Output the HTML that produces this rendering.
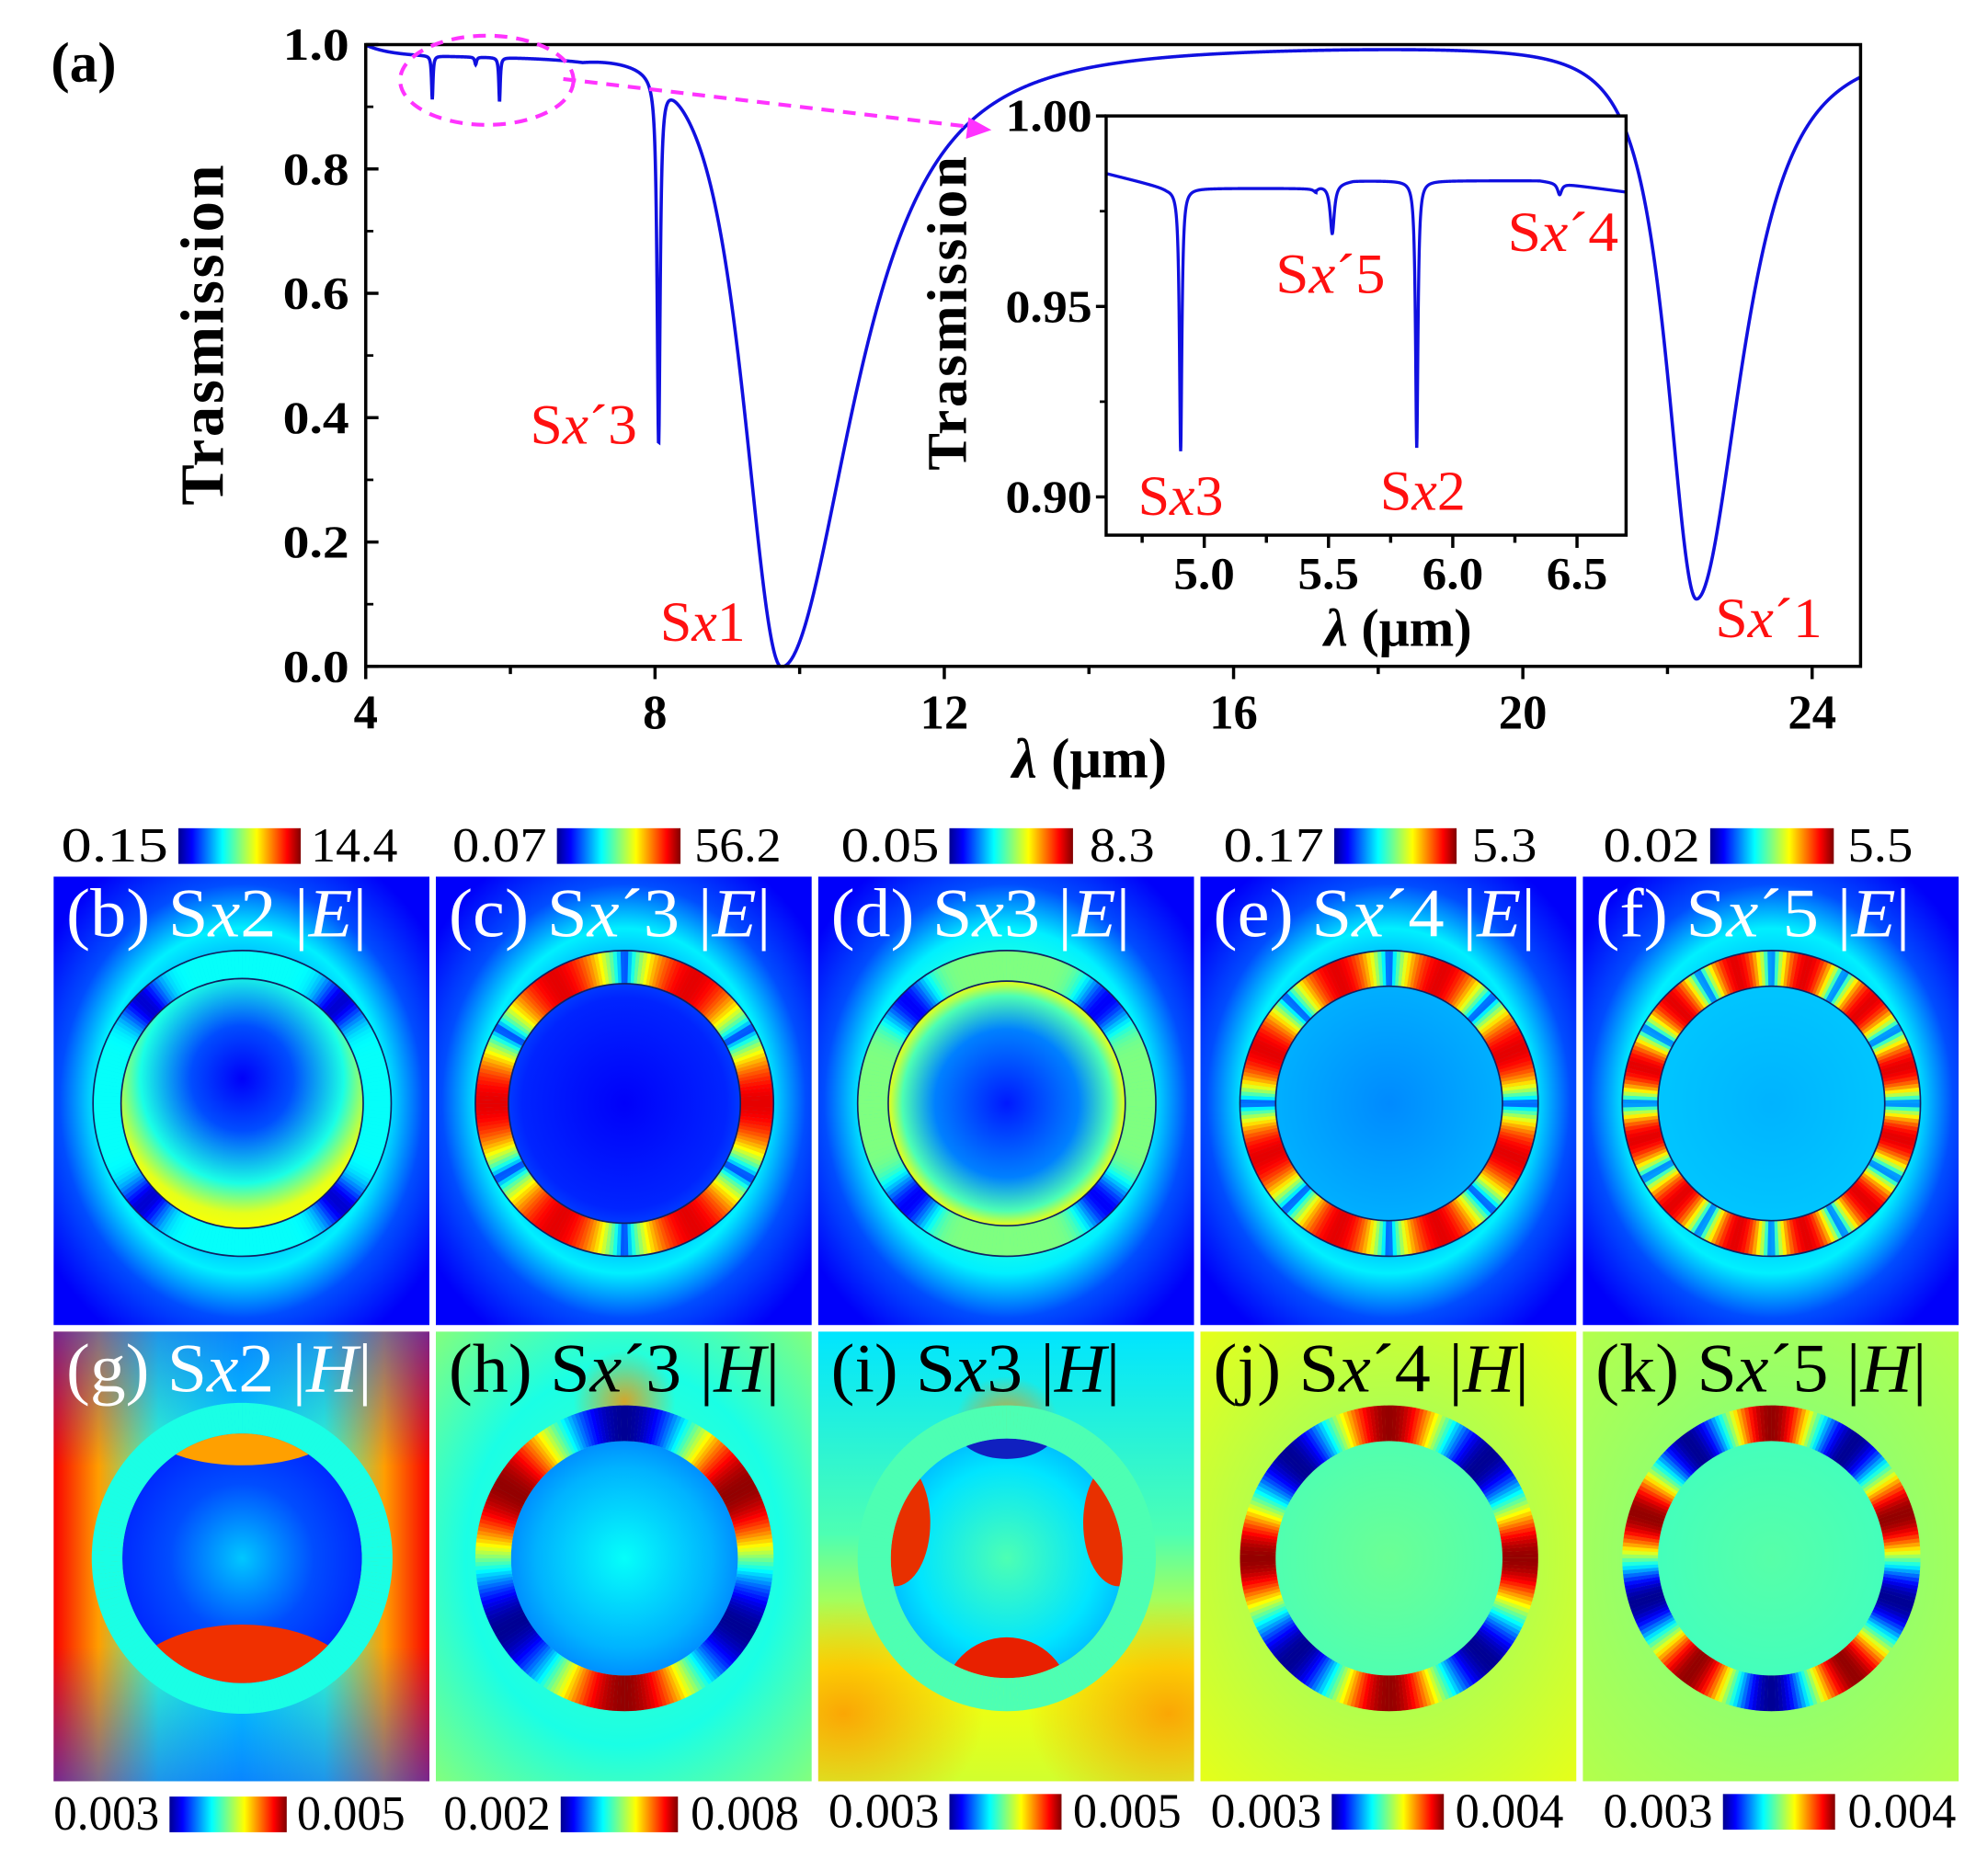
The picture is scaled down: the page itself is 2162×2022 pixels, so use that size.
<!DOCTYPE html>
<html><head><meta charset="utf-8"><style>
html,body{margin:0;padding:0;background:#fff}
svg{display:block}
text{font-family:"Liberation Serif",serif}
</style></head><body>
<svg id="s" width="2162" height="2022" viewBox="0 0 1560 1459" preserveAspectRatio="none" xmlns="http://www.w3.org/2000/svg">
<defs>
<linearGradient id="jet" x1="0" x2="1" y1="0" y2="0">
<stop offset="0" stop-color="#00008f"/><stop offset="0.11" stop-color="#0000ff"/><stop offset="0.36" stop-color="#00ffff"/><stop offset="0.5" stop-color="#80ff80"/><stop offset="0.64" stop-color="#ffff00"/><stop offset="0.89" stop-color="#ff0000"/><stop offset="1" stop-color="#800000"/>
</linearGradient>
<linearGradient id="gfade" x1="0" y1="0" x2="0" y2="1">
<stop offset="0" stop-color="#1040ff" stop-opacity="0.55"/><stop offset="0.3" stop-color="#1040ff" stop-opacity="0"/><stop offset="0.7" stop-color="#1040ff" stop-opacity="0"/><stop offset="1" stop-color="#1040ff" stop-opacity="0.55"/>
</linearGradient>
<radialGradient id="orf"><stop offset="0" stop-color="#ff9000" stop-opacity="0.8"/><stop offset="1" stop-color="#ff9000" stop-opacity="0"/></radialGradient>
</defs>
<g id="plot"></g>
<g id="fields"></g>
</svg>
<script>
var NS="http://www.w3.org/2000/svg";
function el(p,t,a,txt){var e=document.createElementNS(NS,t);for(var k in a)e.setAttribute(k,a[k]);if(txt!==undefined)e.textContent=txt;p.appendChild(e);return e;}
var P=document.getElementById('plot'),F=document.getElementById('fields');
function L(x,c,g){return g*g/((x-c)*(x-c)+g*g);}
function Tmain(l){
 var t=1;
 if(l<9.75) t-=Math.pow(L(l,9.75,0.93),2); else t-=Math.pow(L(l,9.75,1.5),1.5);
 if(l<22.4) t-=0.89*Math.pow(L(l,22.4,0.62),1.5); else t-=0.89*Math.pow(L(l,22.4,0.95),1.5);
 t-=0.585*L(l,8.05,0.025);
 t-=0.07*L(l,4.92,0.012);t-=0.012*L(l,5.52,0.015);t-=0.07*L(l,5.85,0.012);
 var b=0.018*(1-Math.exp(-(l-4)/0.35)); if(l>7) b*=Math.exp(-(l-7)/0.8);
 t-=b;
 return Math.max(t,0);
}
function mx(l){return 287+(l-4)*56.75;} function my(t){return 523-t*488;}
var d="";for(var l=4;l<=24.67;l+=0.004){d+=(d?"L":"M")+mx(l).toFixed(2)+","+my(Tmain(l)).toFixed(2);}
el(P,'path',{d:d,fill:'none',stroke:'#1010e0','stroke-width':2.6});
el(P,'rect',{x:287,y:35,width:1173,height:488,fill:'none',stroke:'#000','stroke-width':2.5});
[0,0.2,0.4,0.6,0.8,1.0].forEach(function(v){el(P,'line',{x1:287,x2:297,y1:my(v),y2:my(v),stroke:'#000','stroke-width':2.5});el(P,'text',{x:274,y:my(v)+12,'text-anchor':'end','font-size':36,'font-weight':'bold',textLength:52,lengthAdjust:'spacingAndGlyphs'},v.toFixed(1));});
[0.1,0.3,0.5,0.7,0.9].forEach(function(v){el(P,'line',{x1:287,x2:293,y1:my(v),y2:my(v),stroke:'#000','stroke-width':2});});
for(var l=4;l<=24;l+=2){var maj=(l%4==0);el(P,'line',{x1:mx(l),x2:mx(l),y1:523,y2:523+(maj?10:6),stroke:'#000','stroke-width':2.5});if(maj)el(P,'text',{x:mx(l),y:572,'text-anchor':'middle','font-size':38,'font-weight':'bold'},String(l));}
el(P,'text',{x:855,y:610,'text-anchor':'middle','font-size':44,'font-weight':'bold'}).innerHTML='<tspan font-style="italic">λ</tspan> (μm)';
el(P,'text',{x:0,y:0,transform:'translate(175,262) rotate(-90)','text-anchor':'middle','font-size':48,'font-weight':'bold','letter-spacing':'2'},'Trasmission');
el(P,'text',{x:40,y:64,'font-size':44,'font-weight':'bold'},'(a)');
el(P,'ellipse',{cx:382,cy:63,rx:68,ry:35,fill:'none',stroke:'#ff33ff','stroke-width':3,'stroke-dasharray':'10,7'});
el(P,'line',{x1:442,y1:62,x2:765,y2:100,stroke:'#ff33ff','stroke-width':3,'stroke-dasharray':'10,7'});
el(P,'polygon',{points:'778,102 760,92 758,109',fill:'#ff33ff'});
// inset
el(P,'rect',{x:868,y:91,width:408,height:329,fill:'#fff'});
function ix(l){return 945+(l-5)*195;} function iy(t){return 91+(1-t)*2990;}
function Tin(l){var b;
 if(l<4.85) b=0.985-0.004*(l-4.6)/0.25; else if(l<5.45) b=0.981; else if(l<5.6) b=0.9815+0.0015*(l-5.45)/0.15; else if(l<6.35) b=0.983; else b=0.983-0.003*(l-6.35)/0.35;
 return b-0.069*L(l,4.905,0.006)-0.013*L(l,5.515,0.01)-0.07*L(l,5.855,0.006)-0.003*L(l,6.43,0.01)-0.0008*L(l,5.45,0.01);}
d="";for(var l=4.605;l<=6.70;l+=0.0008){d+=(d?"L":"M")+ix(l).toFixed(2)+","+iy(Tin(l)).toFixed(2);}
el(P,'path',{d:d,fill:'none',stroke:'#1010e0','stroke-width':2.4});
el(P,'rect',{x:868,y:91,width:408,height:329,fill:'none',stroke:'#000','stroke-width':2.5});
[[1.0,'1.00'],[0.95,'0.95'],[0.9,'0.90']].forEach(function(a){el(P,'line',{x1:868,x2:860,y1:iy(a[0]),y2:iy(a[0]),stroke:'#000','stroke-width':2.5});el(P,'text',{x:857,y:iy(a[0])+12,'text-anchor':'end','font-size':36,'font-weight':'bold',textLength:68,lengthAdjust:'spacingAndGlyphs'},a[1]);});
[0.975,0.925].forEach(function(v){el(P,'line',{x1:868,x2:863,y1:iy(v),y2:iy(v),stroke:'#000','stroke-width':2});});
for(var l=4.75;l<=6.6;l+=0.25){var maj=Math.abs(l*2-Math.round(l*2))<0.01;el(P,'line',{x1:ix(l),x2:ix(l),y1:420,y2:420+(maj?10:6),stroke:'#000','stroke-width':2.5});if(maj)el(P,'text',{x:ix(l),y:462,'text-anchor':'middle','font-size':36,'font-weight':'bold',textLength:48,lengthAdjust:'spacingAndGlyphs'},l.toFixed(1));}
el(P,'text',{x:1097,y:507,'text-anchor':'middle','font-size':42,'font-weight':'bold'}).innerHTML='<tspan font-style="italic">λ</tspan> (μm)';
el(P,'text',{x:0,y:0,transform:'translate(758,245) rotate(-90)','text-anchor':'middle','font-size':44,'font-weight':'bold','letter-spacing':'2'},'Trasmission');
function red(x,y,pre,it,post,w){el(P,'text',{x:x,y:y,'font-size':44,fill:'#ff1010',textLength:w,lengthAdjust:'spacingAndGlyphs'}).innerHTML=pre+'<tspan font-style="italic">'+it+'</tspan>'+post;}
red(416,348,'S','x','´3',84);red(518,503,'S','x','1',67);red(1346,500,'S','x','´1',84);
red(893,404,'S','x','3',67);red(1083,400,'S','x','2',67);red(1001,230,'S','x','´5',86);red(1183,197,'S','x','´4',87);

// field maps
function jet(v){v=Math.max(0,Math.min(1,v));var r=Math.min(4*v-1.5,-4*v+4.5),g=Math.min(4*v-0.5,-4*v+3.5),b=Math.min(4*v+0.5,-4*v+2.5);
 function c(x){return Math.round(255*Math.max(0,Math.min(1,x)));}return 'rgb('+c(r)+','+c(g)+','+c(b)+')';}
var defs=document.querySelector('defs');
var gid=0;
function radial(stops,cx,cy,r){var id='g'+(gid++);var g=el(defs,'radialGradient',{id:id,cx:cx,cy:cy,r:r});stops.forEach(function(s){el(g,'stop',{offset:s[0],'stop-color':jet(s[1])});});return 'url(#'+id+')';}
function linear(stops,vert){var id='g'+(gid++);var g=el(defs,'linearGradient',{id:id,x1:0,y1:0,x2:vert?0:1,y2:vert?1:0});stops.forEach(function(s){el(g,'stop',{offset:s[0],'stop-color':jet(s[1])});});return 'url(#'+id+')';}
var cols=[42,342,642,942,1242];
function panel(ci,row,spec){
 var x0=cols[ci],y0=row?1045:688,w=295,h=row?353:352;
 var g=el(F,'g',{transform:'translate('+x0+','+y0+')'});
 var cp=el(defs,'clipPath',{id:'cp'+ci+row});el(cp,'rect',{x:0,y:0,width:w,height:h});
 g.setAttribute('clip-path','url(#cp'+ci+row+')');
 el(g,'rect',{x:0,y:0,width:w,height:h,fill:spec.bg});
 (spec.extra||[]).forEach(function(e){el(g,e[0],e[1]);});
 var cx=148,cy=178,rx=spec.rx||117,ry=spec.ry||120,th=spec.th;
 el(g,'ellipse',{cx:cx,cy:cy,rx:rx-th,ry:ry-th,fill:spec.inner});
 var ic=el(defs,'clipPath',{id:'ic'+ci+row});el(ic,'ellipse',{cx:cx,cy:cy,rx:rx-th,ry:ry-th});
 var ig=el(g,'g',{'clip-path':'url(#ic'+ci+row+')'});
 (spec.innerExtra||[]).forEach(function(e){el(ig,e[0],e[1]);});
 var N=240;for(var i=0;i<N;i++){var a0=2*Math.PI*i/N,a1=2*Math.PI*(i+1.05)/N,am=(a0+a1)/2;
  var pts=[[Math.cos(a0)*rx,-Math.sin(a0)*ry],[Math.cos(a1)*rx,-Math.sin(a1)*ry],[Math.cos(a1)*(rx-th),-Math.sin(a1)*(ry-th)],[Math.cos(a0)*(rx-th),-Math.sin(a0)*(ry-th)]];
  el(g,'polygon',{points:pts.map(function(p){return (cx+p[0]).toFixed(2)+','+(cy+p[1]).toFixed(2);}).join(' '),fill:jet(spec.ring(am))});}
 if(spec.outline){el(g,'ellipse',{cx:cx,cy:cy,rx:rx,ry:ry,fill:'none',stroke:'#102060','stroke-width':1.2});el(g,'ellipse',{cx:cx,cy:cy,rx:rx-th,ry:ry-th,fill:'none',stroke:'#102060','stroke-width':1.2});}
 el(g,'text',{x:10,y:47,'font-size':54,fill:spec.tc||'#fff',textLength:spec.tw,lengthAdjust:'spacingAndGlyphs'}).innerHTML=spec.label;
}
function lab(l,s,f){return '('+l+') S<tspan font-style="italic">x</tspan>'+s+' |<tspan font-style="italic">'+f+'</tspan>|';}
var PI=Math.PI;
function seg(fn){return function(a){return 0.1+0.8*Math.pow(Math.abs(fn(a)),0.6);};}
var Ebg=function(c){return radial([[0,c],[0.5,c],[0.62,0.36],[0.78,0.2],[1,0.12]],'50%','50%','62%');};
panel(0,0,{bg:Ebg(0.3),th:22,outline:true,tw:236,inner:radial([[0,0.12],[0.35,0.2],[0.7,0.4],[0.9,0.6],[1,0.62]],'50%','40%','60%'),ring:function(a){return 0.38-0.3*Math.pow((1-Math.cos(4*a))/2,8);},label:lab('b','2','E')});
panel(1,0,{bg:Ebg(0.3),th:26,outline:true,tw:253,inner:radial([[0,0.12],[0.8,0.16],[1,0.2]],'50%','50%','55%'),ring:seg(function(a){return Math.cos(3*a);}),label:lab('c','´3','E')});
panel(2,0,{bg:Ebg(0.4),th:24,outline:true,tw:235,inner:radial([[0,0.15],[0.55,0.25],[0.8,0.45],[0.92,0.62],[1,0.5]],'50%','50%','55%'),ring:function(a){return 0.5-0.38*Math.pow((1-Math.cos(4*a))/2,6);},label:lab('d','3','E')});
panel(3,0,{bg:Ebg(0.3),th:28,outline:true,tw:253,inner:radial([[0,0.26],[1,0.3]],'50%','50%','55%'),ring:seg(function(a){return Math.sin(4*a);}),label:lab('e','´4','E')});
panel(4,0,{bg:Ebg(0.32),th:28,outline:true,tw:247,inner:radial([[0,0.3],[1,0.32]],'50%','50%','55%'),ring:seg(function(a){return Math.sin(6*a);}),label:lab('f','´5','E')});
// H row
panel(0,1,{bg:linear([[0,0.88],[0.12,0.72],[0.28,0.42],[0.5,0.34],[0.72,0.42],[0.88,0.72],[1,0.88]]),th:24,rx:118,ry:122,tw:240,
 extra:[['rect',{x:0,y:0,width:295,height:353,fill:'url(#gfade)'}]],
 inner:radial([[0,0.32],[0.5,0.2],[1,0.15]],'50%','50%','60%'),
 innerExtra:[['ellipse',{cx:148,cy:285,rx:95,ry:55,fill:'#f03000'}],['ellipse',{cx:148,cy:70,rx:80,ry:35,fill:'#ffa000'}]],
 ring:function(a){return 0.4;},label:lab('g','2','H')});
panel(1,1,{bg:radial([[0,0.45],[0.6,0.4],[1,0.5]],'50%','50%','70%'),th:28,tw:260,
 extra:[['ellipse',{cx:148,cy:55,rx:40,ry:40,fill:'url(#orf)'}]],
 inner:radial([[0,0.38],[0.7,0.3],[1,0.25]],'50%','50%','55%'),
 ring:function(a){return 0.5+0.48*Math.sin(3*a);},label:lab('h','´3','H'),tc:'#000'});
panel(2,1,{bg:linear([[0,0.35],[0.45,0.45],[0.75,0.62],[1,0.58]],true),th:26,tw:227,
 extra:[['ellipse',{cx:148,cy:70,rx:40,ry:35,fill:'url(#orf)'}],['ellipse',{cx:20,cy:300,rx:110,ry:90,fill:'url(#orf)'}],['ellipse',{cx:275,cy:300,rx:110,ry:90,fill:'url(#orf)'}]],
 inner:radial([[0,0.45],[0.7,0.35],[1,0.3]],'50%','50%','55%'),
 innerExtra:[['ellipse',{cx:148,cy:290,rx:50,ry:50,fill:'#e82000'}],['ellipse',{cx:60,cy:150,rx:28,ry:50,fill:'#e83000'}],['ellipse',{cx:236,cy:150,rx:28,ry:50,fill:'#e83000'}],['ellipse',{cx:148,cy:75,rx:40,ry:25,fill:'#1020c0'}]],
 ring:function(a){return 0.45;},label:lab('i','3','H'),tc:'#000'});
panel(3,1,{bg:radial([[0,0.5],[0.5,0.55],[1,0.6]],'50%','50%','70%'),th:28,tw:248,
 inner:radial([[0,0.48],[1,0.45]],'50%','50%','55%'),
 ring:function(a){return 0.5+0.48*Math.cos(4*a);},label:lab('j','´4','H'),tc:'#000'});
panel(4,1,{bg:radial([[0,0.5],[0.5,0.52],[1,0.55]],'50%','50%','70%'),th:28,tw:260,
 inner:radial([[0,0.46],[1,0.44]],'50%','50%','55%'),
 ring:function(a){return 0.5+0.48*Math.cos(5*(a-PI/2));},label:lab('k','´5','H'),tc:'#000'});
function cbar(lx,lt,bx,bw,rx,rt,y){
 el(F,'text',{x:lx,y:y+26,'font-size':38,textLength:(bx-8-lx),lengthAdjust:'spacingAndGlyphs'},lt);
 el(F,'rect',{x:bx,y:y,width:bw,height:28,fill:'url(#jet)'});
 el(F,'text',{x:rx,y:y+26,'font-size':38,textLength:rt.length*17,lengthAdjust:'spacingAndGlyphs'},rt);}
cbar(48,'0.15',140,96,244,'14.4',650);cbar(355,'0.07',437,97,545,'56.2',650);cbar(660,'0.05',745,97,855,'8.3',650);cbar(960,'0.17',1047,96,1155,'5.3',650);cbar(1258,'0.02',1342,97,1450,'5.5',650);
cbar(42,'0.003',133,92,233,'0.005',1410);cbar(348,'0.002',440,92,542,'0.008',1410);cbar(650,'0.003',745,88,842,'0.005',1408);cbar(950,'0.003',1045,88,1142,'0.004',1408);cbar(1258,'0.003',1352,88,1450,'0.004',1408);
</script>
</body></html>
